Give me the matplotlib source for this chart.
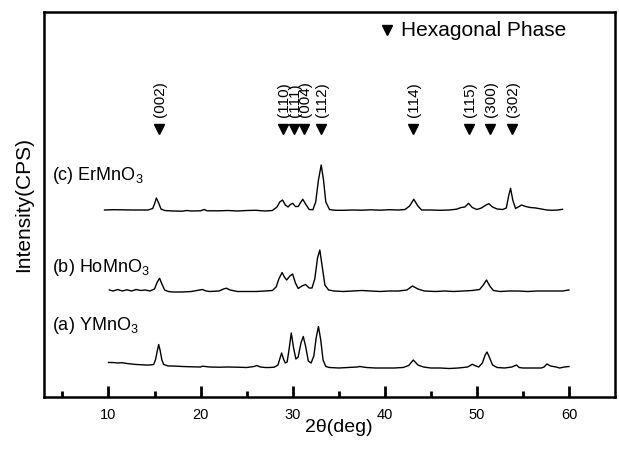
import matplotlib
matplotlib.use("Agg")
import matplotlib.pyplot as plt

plt.rcParams['font.family'] = ['Liberation Sans', 'DejaVu Sans']
plt.rcParams['mathtext.default'] = 'regular'

# ---- data (2theta in deg, intensity above each trace's baseline, arbitrary CPS) ----
tt_a = [10.0, 10.5, 11.0, 11.5, 12.0, 12.5, 13.0, 13.5, 14.0, 14.5, 14.9, 15.1, 15.3, 15.45, 15.6, 15.8, 16.0,
        16.5, 17, 18, 19, 20, 20.2, 21, 22, 23, 24, 25, 25.8, 26.1, 26.5, 27, 27.5, 28, 28.4, 28.6, 28.8,
        29.0, 29.2, 29.4, 29.6, 29.85, 30.1, 30.35, 30.6, 30.9, 31.15, 31.4, 31.7, 32.0, 32.3, 32.55, 32.8,
        33.05, 33.3, 33.6, 34, 35, 36, 37, 37.3, 38, 39, 40, 41, 42, 42.6, 43.1, 43.6, 44.2, 45, 46, 47, 48,
        49, 49.5, 49.9, 50.2, 50.6, 50.9, 51.1, 51.35, 51.7, 52.2, 53, 53.8, 54.3, 54.6, 55, 56, 57, 57.3,
        57.6, 58.0, 58.6, 59, 59.5, 60]
int_a = [5.5, 5.5, 5, 5.3, 4.5, 4, 3.5, 3.3, 3, 3, 3.5, 8, 17, 23.5, 18, 8, 3.5,
         2, 2, 1.5, 1.2, 1.0, 1.8, 1, 0.8, 1, 0.8, 0.5, 1.5, 2.5, 1, 0.5, 0.5, 0.8, 3, 9, 15,
         9, 5, 6, 18, 35, 20, 9, 11, 25, 31.5, 22, 7, 5, 12, 30, 41.5,
         28, 8, 1.5, 0.5, 0, 0.5, 1, 1.5, 0.5, 0, 0, 0, 0.5, 2.5, 8, 3, 1, 0, 0, -0.5, 0,
         1, 3.7, 2, 1, 5, 13, 16, 11, 3, 0.5, 0, 1, 3, 0.5, 0, 0, 0, 1,
         4, 2, 1, 0, 1, 1.5]

tt_b = [10.1, 10.5, 11, 11.5, 12, 12.5, 13, 13.5, 14, 14.5, 15.0, 15.3, 15.55, 15.8, 16.1, 16.5, 17, 18, 19,
        20.2, 20.6, 21, 22, 22.5, 22.8, 23.2, 24, 25, 26, 27, 27.8, 28.2, 28.5, 28.85, 29.1, 29.35, 29.7,
        30.0, 30.3, 30.6, 31.0, 31.4, 31.8, 32.1, 32.4, 32.7, 32.95, 33.2, 33.5, 33.9, 34.5, 35.5, 36.5,
        37.5, 38.5, 39.5, 40.5, 41.5, 42.4, 43.0, 43.6, 44.3, 45.5, 46.5, 47.5, 48.5, 49.5, 50.3, 50.7,
        51.05, 51.4, 51.8, 52.5, 53.5, 54.5, 55.5, 56.5, 57.5, 58.5, 59.3, 60.0]
int_b = [1, 0, 1.5, 0, 1.2, 0, 1.5, 0.5, 1, 0, 2, 9, 12.7, 7, 1, -0.5, -1, -1, -0.5,
         1.5, 0, -0.5, 0, 2, 2.8, 1, -0.5, -0.5, -0.5, 0, 0.5, 4, 12, 18.5, 14, 11, 15,
         17, 8, 2.5, 5, 6.5, 3, 3, 12, 33, 41, 25, 6, 1, 0, -0.5, 0,
         0.5, 0, -0.5, 0, 0, 1, 5, 2, 0, -0.5, 0, -0.5, 0, 0.5, 1.5, 6,
         11, 5, 0.5, -0.5, 0, 0, -0.5, 0, 0, 0, 0, 1]

tt_c = [9.57, 10.5, 11.5, 12.5, 13.5, 14.3, 14.8, 15.0, 15.2, 15.45, 15.7, 16.1, 17, 18, 18.5, 19, 20, 20.4,
        20.7, 22, 23, 24, 25, 26, 27, 27.8, 28.3, 28.6, 28.9, 29.2, 29.5, 29.75, 30.0, 30.3, 30.6, 30.9,
        31.1, 31.4, 31.8, 32.2, 32.5, 32.8, 33.1, 33.35, 33.6, 34.0, 34.6, 35.5, 36.5, 37.5, 38.5, 39.5,
        40.5, 41.5, 42.2, 42.7, 43.15, 43.6, 44.0, 45, 46, 47, 47.8, 48.3, 48.7, 49.1, 49.5, 50.0, 50.5,
        51.0, 51.3, 51.7, 52.2, 52.8, 53.2, 53.45, 53.66, 53.9, 54.2, 54.5, 54.85, 55.3, 55.8, 56.4, 57,
        57.6, 58.2, 58.8, 59.3]
int_c = [0, 0.3, 0.2, 0, 0, 0, 1.5, 6, 12, 7, 1, -0.5, -1, -1.2, -0.5, -1, -0.8, 0.5,
         -0.8, -0.8, -0.5, -1, -0.5, -0.3, -1, -0.5, 3, 8, 10, 5, 3, 5.5, 6.7, 3.5, 3.5, 8,
         10.7, 6, 0.5, 0.3, 8, 30, 45, 30, 8, 0.5, -0.3, -0.3, 0, -0.2, 0.2, -0.2,
         0.3, 0, 0.5, 4, 10.7, 4, 0, 0, -0.3, 0, 0.8, 2.5, 3, 6.7, 2.5, 0.5, 2,
         5, 6.3, 3, 1, 0.5, 2, 14, 21.7, 10, 1.5, 3, 5, 3.5, 2.5, 2, 1,
         0, -0.3, 0, 0.7]

offsets = [29, 106, 187]
sample_labels = ['(a) YMnO$_3$', '(b) HoMnO$_3$', '(c) ErMnO$_3$']
label_y = [72, 130, 222]

hkl_labels = ['(002)', '(110)', '(111)', '(004)', '(112)', '(114)', '(115)', '(300)', '(302)']
hkl_pos = [15.46, 29.0, 30.1, 31.2, 33.1, 43.1, 49.2, 51.4, 53.8]

xticks_major = [10, 20, 30, 40, 50, 60]
xticks_minor = [5, 15, 25, 35, 45, 55]

# ---- figure ----
fig = plt.figure(figsize=(6.19, 4.55), dpi=100)
ax = fig.add_axes([44/619, 1-397/455, (615-44)/619, (397-12)/455])

for tt, inten, off in zip([tt_a, tt_b, tt_c], [int_a, int_b, int_c], offsets):
    ax.plot(tt, [v + off for v in inten], color='black', lw=1.0)

for lab, y in zip(sample_labels, label_y):
    ax.text(3.9, y, lab, fontsize=13, ha='left', va='center')

tri_y = 268
ax.plot(hkl_pos, [tri_y]*len(hkl_pos), linestyle='none', marker='v', color='black', markersize=7)
for lab, x in zip(hkl_labels, hkl_pos):
    ax.text(x + 0.1, tri_y + 12, lab, rotation=90, fontsize=11, ha='center', va='bottom')

ax.plot([40.2], [367], marker='v', color='black', markersize=7, linestyle='none')
ax.text(41.8, 367, 'Hexagonal Phase', fontsize=15, ha='left', va='center')

ax.set_xlim(3, 65)
ax.set_ylim(0, 385)
ax.set_xticks(xticks_major)
ax.set_xticks(xticks_minor, minor=True)
ax.set_yticks([])
ax.tick_params(axis='x', which='major', direction='in', length=8, width=2, labelsize=10.5, pad=8)
ax.tick_params(axis='x', which='minor', direction='in', length=4.5, width=2)
for s in ax.spines.values():
    s.set_linewidth(1.8)

ax.set_xlabel('2θ(deg)', fontsize=14)
ax.xaxis.set_label_coords((339-44)/571, -(428-397)/385)
ax.xaxis.label.set_va('center')
ax.set_ylabel('Intensity(CPS)', fontsize=15)
ax.yaxis.set_label_coords(-(44-24)/571, 0.5)
ax.yaxis.label.set_va('center')

fig.savefig('out.png', dpi=100)
